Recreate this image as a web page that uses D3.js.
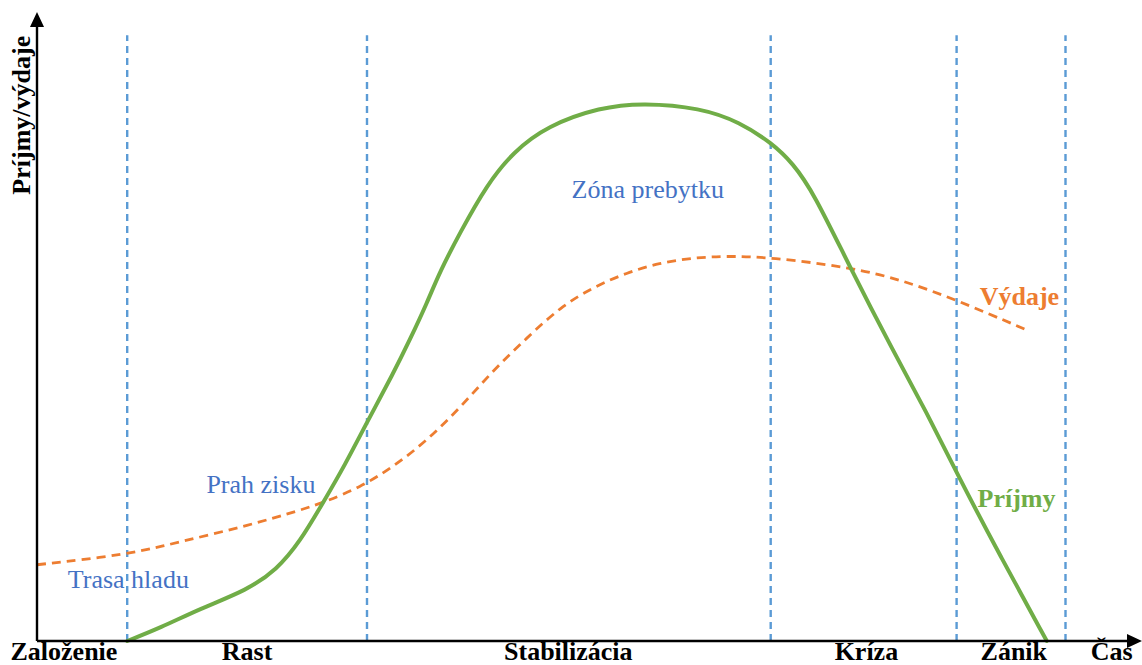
<!DOCTYPE html>
<html>
<head>
<meta charset="utf-8">
<script src="https://cdn.jsdelivr.net/npm/d3@7"></script>
<style>
  html, body { margin: 0; padding: 0; background: #fff; }
  svg { display: block; }
  text { font-family: "Liberation Serif", "Times New Roman", serif; }
</style>
</head>
<body>
<svg id="chart" width="1142" height="665"></svg>
<script>
// ---- data (abstract units: time 0-100, amount 0-100) ----
const prijmyX = [8.2, 11.2, 14.8, 19.1, 21.8, 23.9, 26.0, 28.0, 30.0, 32.4, 33.9, 35.5, 36.6, 38.5, 40.9, 43.3, 46.4, 51.2, 55.1, 60.3, 63.9, 66.8, 68.7, 70.6, 73.9, 77.8, 80.9, 83.6, 87.6, 91.8];
const prijmyY = [0, 2.1, 5.2, 8.2, 11.5, 16.0, 22.3, 28.4, 35.3, 43.2, 48.6, 54.7, 59.5, 66.0, 73.6, 78.9, 83.1, 86.1, 86.8, 86.0, 83.7, 80.3, 77.1, 72.3, 60.3, 46.9, 36.8, 27.1, 13.6, 0];

const vydajeX = [0, 8.2, 13.0, 19.4, 23.9, 26.0, 29.4, 32.4, 35.5, 38.5, 41.5, 44.6, 47.6, 50.6, 53.6, 56.6, 59.6, 62.7, 66.6, 73.9, 78.7, 83.6, 89.8];
const vydajeY = [12.3, 13.9, 16.0, 18.7, 21.1, 22.3, 24.8, 28.1, 32.4, 37.7, 43.7, 49.0, 53.9, 57.1, 59.4, 61.0, 61.8, 62.1, 61.9, 60.3, 58.2, 55.0, 50.3];

const dividerX = [8.2, 30.0, 66.7, 83.6, 93.5];
const dividerTop = 97.7;

const phaseLabels = ["Založenie", "Rast", "Stabilizácia", "Kríza", "Zánik", "Čas"];
const phaseLabelX = [2.45, 19.1, 48.3, 75.4, 88.8, 97.7];
const phaseLabelY = -3.1;

const yAxisTitle = "Príjmy/výdaje";
const yAxisTitleY = 84.8;

const noteTexts = ["Trasa hladu", "Prah zisku", "Zóna prebytku"];
const noteX = [2.8, 15.4, 48.6];
const noteY = [8.5, 23.9, 71.4];

const seriesNames = ["Výdaje", "Príjmy"];
const seriesLabelX = [85.7, 85.5];
const seriesLabelY = [54.2, 21.6];

// ---- layout ----
const svg = d3.select("#chart");
const W = 1142, H = 665;
const x = d3.scaleLinear().domain([0, 100]).range([37, 1137]);
const y = d3.scaleLinear().domain([0, 100]).range([641, 21]);

const COL_GREEN = "#70AD47", COL_ORANGE = "#ED7D31", COL_DIV = "#5B9BD5", COL_NOTE = "#4472C4";

// dividers
svg.append("g").selectAll("line").data(dividerX).join("line")
  .attr("x1", d => x(d)).attr("x2", d => x(d))
  .attr("y1", y(0)).attr("y2", y(dividerTop))
  .attr("stroke", COL_DIV).attr("stroke-width", 2.4)
  .attr("stroke-dasharray", "7,5");

// lines
const line = d3.line().x(d => x(d[0])).y(d => y(d[1])).curve(d3.curveBasis);

svg.append("path")
  .datum(vydajeX.map((v, i) => [v, vydajeY[i]]))
  .attr("d", line).attr("fill", "none")
  .attr("stroke", COL_ORANGE).attr("stroke-width", 2.8)
  .attr("stroke-dasharray", "9,6");

svg.append("path")
  .datum(prijmyX.map((v, i) => [v, prijmyY[i]]))
  .attr("d", line).attr("fill", "none")
  .attr("stroke", COL_GREEN).attr("stroke-width", 4)
  .attr("stroke-linecap", "round");

// axes with arrows
const ax = svg.append("g");
ax.append("line").attr("x1", x(0)).attr("x2", W - 10).attr("y1", y(0)).attr("y2", y(0))
  .attr("stroke", "#000").attr("stroke-width", 2.4);
ax.append("line").attr("x1", x(0)).attr("x2", x(0)).attr("y1", y(0)).attr("y2", 22)
  .attr("stroke", "#000").attr("stroke-width", 2.4);
ax.append("path")
  .attr("d", `M${W},${y(0)} L${W - 15},${y(0) - 7} L${W - 15},${y(0) + 7} Z`)
  .attr("fill", "#000");
ax.append("path")
  .attr("d", `M${x(0)},12 L${x(0) - 7},27 L${x(0) + 7},27 Z`)
  .attr("fill", "#000");

// phase labels
svg.append("g").selectAll("text").data(phaseLabels).join("text")
  .attr("x", (d, i) => x(phaseLabelX[i]))
  .attr("y", y(phaseLabelY))
  .attr("text-anchor", "middle")
  .attr("font-size", 26).attr("font-weight", "bold").attr("fill", "#000")
  .text(d => d);

// y axis title
svg.append("text")
  .attr("transform", `translate(30,${y(yAxisTitleY)}) rotate(-90)`)
  .attr("text-anchor", "middle")
  .attr("font-size", 26).attr("font-weight", "bold").attr("fill", "#000")
  .text(yAxisTitle);

// notes
svg.append("g").selectAll("text").data(noteTexts).join("text")
  .attr("x", (d, i) => x(noteX[i]))
  .attr("y", (d, i) => y(noteY[i]))
  .attr("font-size", 26).attr("fill", COL_NOTE)
  .text(d => d);

// series labels
const seriesColors = [COL_ORANGE, COL_GREEN];
svg.append("g").selectAll("text").data(seriesNames).join("text")
  .attr("x", (d, i) => x(seriesLabelX[i]))
  .attr("y", (d, i) => y(seriesLabelY[i]))
  .attr("font-size", 26).attr("font-weight", "bold")
  .attr("fill", (d, i) => seriesColors[i])
  .text(d => d);
</script>
</body>
</html>
